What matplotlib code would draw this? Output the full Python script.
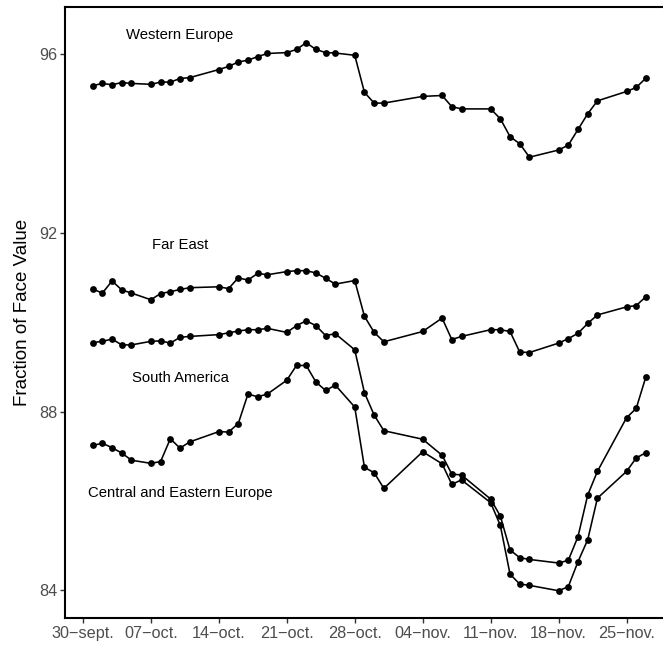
import matplotlib
matplotlib.use("Agg")
import matplotlib.pyplot as plt
import numpy as np
import pandas as pd

# Trading dates (days after the 30 September reference date)
day_offsets = [1, 2, 3, 4, 5, 7, 8, 9, 10, 11, 14, 15, 16, 17, 18, 19, 21, 22, 23, 24,
               25, 26, 28, 29, 30, 31, 35, 37, 38, 39, 42, 43, 44, 45, 46, 49, 50, 51,
               52, 53, 56, 57, 58]
start_date = "1998-09-30"

western_europe = [95.29, 95.34, 95.31, 95.36, 95.34, 95.32, 95.37, 95.37, 95.45, 95.47,
                  95.65, 95.72, 95.82, 95.86, 95.94, 96.01, 96.03, 96.10, 96.25, 96.10,
                  96.03, 96.02, 95.97, 95.14, 94.90, 94.90, 95.05, 95.07, 94.82, 94.77,
                  94.77, 94.55, 94.15, 93.99, 93.69, 93.85, 93.96, 94.31, 94.66, 94.95,
                  95.16, 95.25, 95.46]
far_east = [90.74, 90.65, 90.92, 90.72, 90.65, 90.50, 90.64, 90.68, 90.73, 90.77,
            90.79, 90.75, 90.99, 90.94, 91.09, 91.06, 91.13, 91.15, 91.15, 91.10,
            90.98, 90.85, 90.93, 90.13, 89.77, 89.56, 89.79, 90.09, 89.61, 89.68,
            89.83, 89.83, 89.79, 89.33, 89.32, 89.53, 89.63, 89.75, 89.97, 90.16,
            90.34, 90.37, 90.57]
south_america = [89.54, 89.57, 89.62, 89.49, 89.49, 89.57, 89.58, 89.53, 89.66, 89.68,
                 89.72, 89.76, 89.80, 89.83, 89.83, 89.86, 89.77, 89.92, 90.03, 89.92,
                 89.70, 89.74, 89.38, 88.42, 87.92, 87.57, 87.38, 87.02, 86.60, 86.58,
                 86.04, 85.66, 84.90, 84.73, 84.69, 84.61, 84.67, 85.20, 86.13, 86.66,
                 87.86, 88.07, 88.78]
central_eastern_europe = [87.24, 87.29, 87.19, 87.07, 86.91, 86.84, 86.88, 87.39, 87.18,
                          87.32, 87.55, 87.54, 87.73, 88.39, 88.33, 88.39, 88.70, 89.03,
                          89.03, 88.66, 88.47, 88.59, 88.10, 86.75, 86.63, 86.28, 87.10,
                          86.83, 86.37, 86.47, 85.96, 85.45, 84.36, 84.14, 84.11, 83.99,
                          84.08, 84.64, 85.13, 86.06, 86.66, 86.96, 87.08]

region_names = ["Western Europe", "Far East", "South America", "Central and Eastern Europe"]
region_label_y = [96.43, 91.73, 88.74, 86.17]
label_day = 10

tick_days = [0, 7, 14, 21, 28, 35, 42, 49, 56]
tick_labels = ["30\u2212sept.", "07\u2212oct.", "14\u2212oct.", "21\u2212oct.", "28\u2212oct.",
               "04\u2212nov.", "11\u2212nov.", "18\u2212nov.", "25\u2212nov."]
y_ticks = [84, 88, 92, 96]

plt.rcParams["font.family"] = ["Liberation Sans", "DejaVu Sans"]

origin = pd.Timestamp(start_date)
dates = origin + pd.to_timedelta(day_offsets, unit="D")

fig = plt.figure(figsize=(6.63, 6.45), dpi=100)
ax = fig.add_axes([65 / 663, 1 - 618 / 645, (673.6 - 65) / 663, (618 - 7) / 645])

for series in (western_europe, far_east, south_america, central_eastern_europe):
    ax.plot(dates, series, color="black", lw=1.15, marker="o", ms=4.9,
            markeredgewidth=0, solid_joinstyle="round")

label_date = origin + pd.Timedelta(days=label_day)
for name, yv in zip(region_names, region_label_y):
    ax.text(label_date, yv, name, ha="center", va="center", fontsize=10.7, color="black")

ax.set_xlim(origin - pd.Timedelta(days=1.85), origin + pd.Timedelta(days=60.85))
ax.set_ylim(83.38, 97.05)

ax.set_xticks(origin + pd.to_timedelta(tick_days, unit="D"))
ax.set_xticklabels(tick_labels)
ax.set_yticks(y_ticks)
ax.set_yticklabels([str(v) for v in y_ticks])

ax.tick_params(axis="both", direction="out", length=3.5, width=1.0, color="#333333",
               labelcolor="#4D4D4D", labelsize=11.7, pad=2)
ax.set_ylabel("Fraction of Face Value", fontsize=13.5, color="black", labelpad=6)

for side in ("left", "bottom", "top", "right"):
    ax.spines[side].set_linewidth(1.5)
    ax.spines[side].set_color("black")

fig.savefig("out.png", dpi=100)
